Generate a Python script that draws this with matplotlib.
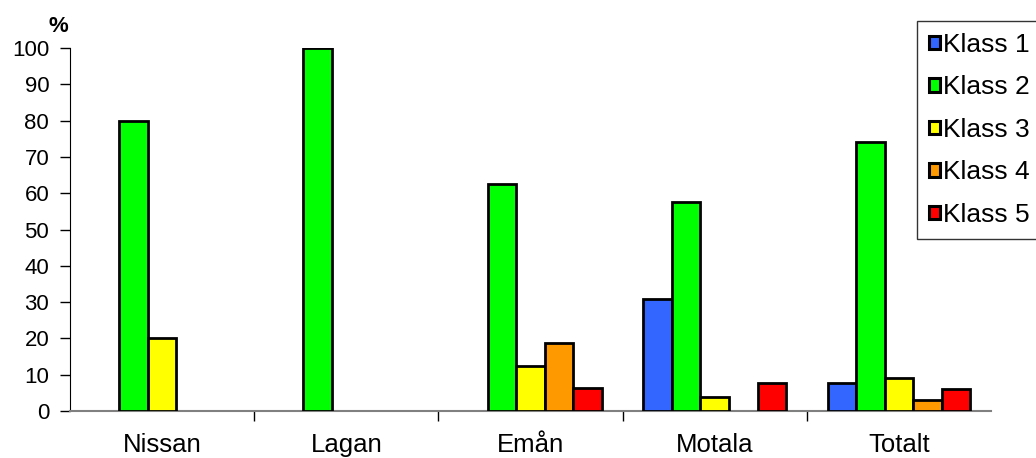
import matplotlib
matplotlib.use("Agg")
import matplotlib.pyplot as plt
import numpy as np
from matplotlib.patches import Patch

categories = ["Nissan", "Lagan", "Emån", "Motala", "Totalt"]
series_names = ["Klass 1", "Klass 2", "Klass 3", "Klass 4", "Klass 5"]
klass1 = [0, 0, 0, 30.8, 7.6]
klass2 = [80, 100, 62.5, 57.7, 74.1]
klass3 = [20, 0, 12.5, 3.8, 9.0]
klass4 = [0, 0, 18.75, 0, 3.0]
klass5 = [0, 0, 6.25, 7.7, 6.0]
series = [klass1, klass2, klass3, klass4, klass5]
colors = ["#3366FF", "#00FF00", "#FFFF00", "#FF9900", "#FF0000"]
yticks = list(range(0, 101, 10))

plt.rcParams['font.family'] = ['Liberation Sans', 'DejaVu Sans']

fig = plt.figure(figsize=(10.36, 4.58), dpi=100)
ax = fig.add_axes([70/1036, 1-411/458, (991-70)/1036, (411-48)/458])

x = np.arange(len(categories))
w = 0.155
for i, (vals, c) in enumerate(zip(series, colors)):
    xs = x + (i - 2) * w
    for xi, v in zip(xs, vals):
        if v > 0:
            ax.bar(xi, v, width=w, color=c, edgecolor='black', linewidth=2, zorder=3)

ax.set_xlim(-0.5, len(categories) - 0.5)
ax.set_ylim(0, 100)
ax.set_yticks(yticks)
ax.set_yticklabels([str(t) for t in yticks], fontsize=16)
ax.set_xticks(x)
ax.set_xticklabels(categories, fontsize=18.5)
ax.tick_params(axis='x', which='major', length=0, pad=16)
ax.set_xticks(np.arange(0.5, len(categories) - 0.5, 1), minor=True)
ax.tick_params(axis='x', which='minor', length=7, width=1, direction='out', color='black')
ax.tick_params(axis='y', length=7, width=1, direction='out', pad=8)

for s in ['top', 'right']:
    ax.spines[s].set_visible(False)
ax.spines['left'].set_color('black')
ax.spines['bottom'].set_color('#808080')
ax.spines['bottom'].set_linewidth(1.5)

fig.text(58/1036, 1-27/458, "%", fontsize=16, fontweight='bold', ha='center', va='center')

handles = [Patch(facecolor=c, edgecolor='black', linewidth=2.2) for c in colors]
leg = fig.legend(handles, series_names, loc='upper left',
                 bbox_to_anchor=(917/1036, 1-21/458), fontsize=19,
                 handlelength=0.42, handleheight=0.42, handletextpad=0.12,
                 labelspacing=0.7, borderpad=0.45, borderaxespad=0,
                 frameon=True, fancybox=False, edgecolor='black')
leg.get_frame().set_linewidth(1)

fig.savefig("out.png", dpi=100, facecolor='white')
